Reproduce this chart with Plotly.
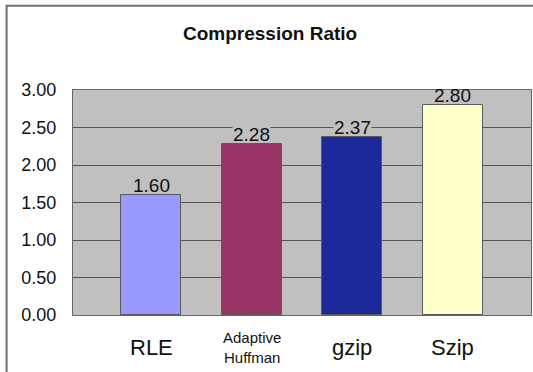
import plotly.graph_objects as go

# Compression ratio per algorithm
categories = ["RLE", "Adaptive<br>Huffman", "gzip", "Szip"]
ratios = [1.60, 2.28, 2.37, 2.80]
bar_colors = ["#9999FF", "#993366", "#1C2A99", "#FFFFCC"]
label_sizes = [22, 15, 22, 22]
y_ticks = [0.0, 0.5, 1.0, 1.5, 2.0, 2.5, 3.0]
y_max = 3.0

FONT = "Liberation Sans, Arial, Helvetica, sans-serif"
positions = list(range(len(categories)))

fig = go.Figure()
fig.add_trace(go.Bar(
    x=positions,
    y=ratios,
    width=0.6,
    marker=dict(color=bar_colors, line=dict(color="#5a5a5a", width=1)),
    hoverinfo="skip",
))

annotations = []
# value labels above each bar; labels inside the plot get a plot-coloured
# backing so gridlines pass behind them
for xi, v in zip(positions, ratios):
    inside = v + 0.2 < y_max
    annotations.append(dict(
        x=xi, y=v, xref="x", yref="y", text=f"{v:.2f}",
        showarrow=False, yanchor="bottom", valign="middle",
        height=14, yshift=2,
        font=dict(family=FONT, size=19, color="#111111"),
        bgcolor="#C0C0C0" if inside else "rgba(0,0,0,0)", borderpad=0,
    ))
# category labels under the axis
for xi, name, fs in zip(positions, categories, label_sizes):
    annotations.append(dict(
        x=xi, y=-0.145, xref="x", yref="paper", text=name,
        showarrow=False, yanchor="middle",
        font=dict(family=FONT, size=fs, color="#111111"),
    ))
# chart title
annotations.append(dict(
    x=0.431, y=1.25, xref="paper", yref="paper",
    text="<b>Compression Ratio</b>", showarrow=False,
    xanchor="center", yanchor="middle",
    font=dict(family=FONT, size=19, color="#111111"),
))

fig.update_layout(
    width=533, height=372,
    margin=dict(l=73, r=2, t=90, b=57),
    paper_bgcolor="white",
    plot_bgcolor="#C0C0C0",
    showlegend=False,
    bargap=0,
    annotations=annotations,
    shapes=[dict(
        type="rect", xref="paper", yref="paper",
        x0=-0.145, y0=-0.5, x1=1.2, y1=1.375,
        line=dict(color="#707070", width=2), layer="below",
    )],
    font=dict(family=FONT, color="#111111"),
)
fig.update_xaxes(
    range=[-0.78, 3.78], showticklabels=False, showgrid=False,
    zeroline=False, showline=True, mirror=True,
    linecolor="#666666", linewidth=1, fixedrange=True,
)
fig.update_yaxes(
    range=[0, y_max], tickvals=y_ticks, tickformat=".2f",
    showgrid=True, gridcolor="#555555", gridwidth=1,
    zeroline=False, showline=True, mirror=True,
    linecolor="#666666", linewidth=1,
    tickfont=dict(family=FONT, size=18, color="#111111"),
    ticklabelstandoff=12, fixedrange=True,
)

fig.write_html("out.html")
